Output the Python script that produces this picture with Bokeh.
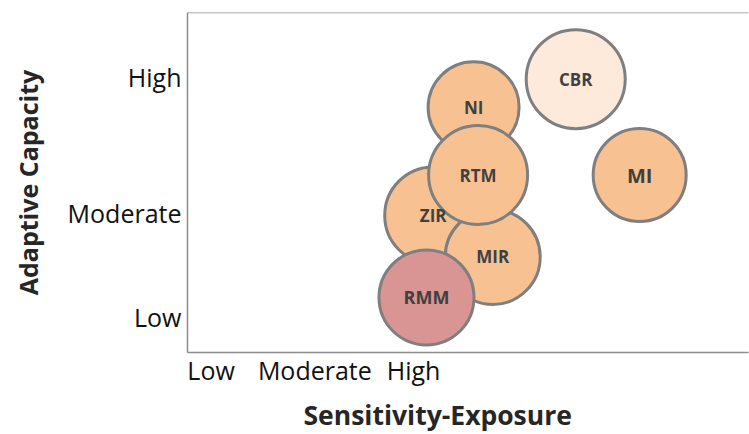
from bokeh.plotting import figure
from bokeh.models import ColumnDataSource, Range1d, FixedTicker, Span, Title
from bokeh.embed import file_html
from bokeh.resources import INLINE
from bokeh.core.properties import value

# ---- data ----
names = ["ZIR", "MIR", "NI", "RTM", "RMM", "CBR", "MI"]
sensitivity = [4.38, 5.44, 5.10, 5.18, 4.26, 6.92, 8.06]
adaptive = [4.03, 2.81, 7.21, 5.22, 1.62, 8.04, 5.22]
bubble_size = [50, 49, 47, 51, 49, 51, 48]
x_tick_pos = [0.42, 2.27, 4.03]
x_tick_labels = ["Low", "Moderate", "High"]
y_tick_pos = [1.03, 4.09, 8.09]
y_tick_labels = ["Low", "Moderate", "High"]

ORANGE = "#F8C191"
fills = [ORANGE, ORANGE, ORANGE, ORANGE, "#D99594", "#FDEADB", ORANGE]
label_px = ["17px", "17px", "17px", "17px", "18px", "17px", "20px"]

FONT = "Open Sans"

src = ColumnDataSource(dict(
    x=sensitivity, y=adaptive, name=names,
    d=[2 * b - 3 for b in bubble_size], fill=fills, fs=label_px,
))

p = figure(frame_width=561, frame_height=340, output_backend="svg", toolbar_location=None,
           x_range=Range1d(0, 10), y_range=Range1d(0, 10),
           min_border_left=187, min_border_right=1, min_border_top=12, min_border_bottom=80)
p.background_fill_color = "white"
p.border_fill_color = "white"
p.outline_line_color = None
p.xgrid.visible = False
p.ygrid.visible = False

p.scatter("x", "y", size="d", source=src, fill_color="fill", fill_alpha=1.0,
          line_color="#7F7F7F", line_width=3)
p.text("x", "y", text="name", source=src, text_align="center", text_baseline="middle",
       text_font=value(FONT), text_font_style="bold", text_font_size="fs",
       text_color="#404040")

for ax in (p.xaxis[0], p.yaxis[0]):
    ax.axis_line_color = "#8C8C8C"
    ax.axis_line_width = 1.5
    ax.major_tick_line_color = None
    ax.minor_tick_line_color = None
    ax.major_tick_out = 0
    ax.major_tick_in = 0
    ax.minor_tick_out = 0
    ax.minor_tick_in = 0
    ax.major_label_text_font = FONT
    ax.major_label_text_font_size = "25px"
    ax.major_label_text_color = "#111111"

p.xaxis.ticker = FixedTicker(ticks=x_tick_pos)
p.xaxis.major_label_overrides = {t: l for t, l in zip(x_tick_pos, x_tick_labels)}
p.xaxis.major_label_standoff = 0
p.yaxis.ticker = FixedTicker(ticks=y_tick_pos)
p.yaxis.major_label_overrides = {t: l for t, l in zip(y_tick_pos, y_tick_labels)}
p.yaxis.major_label_standoff = 6

p.yaxis.axis_label = "Adaptive Capacity"
p.yaxis.axis_label_text_font = FONT
p.yaxis.axis_label_text_font_style = "bold"
p.yaxis.axis_label_text_font_size = "25px"
p.yaxis.axis_label_text_color = "#262626"
p.yaxis.axis_label_standoff = 20

p.add_layout(Span(location=10, dimension="width", line_color="#8C8C8C", line_width=1.5))

p.add_layout(Title(text="Sensitivity-Exposure", align="left", offset=116, standoff=10,
                   text_font=FONT, text_font_style="bold", text_font_size="26.5px",
                   text_color="#262626"), "below")

open("out.html", "w").write(file_html(p, INLINE))
